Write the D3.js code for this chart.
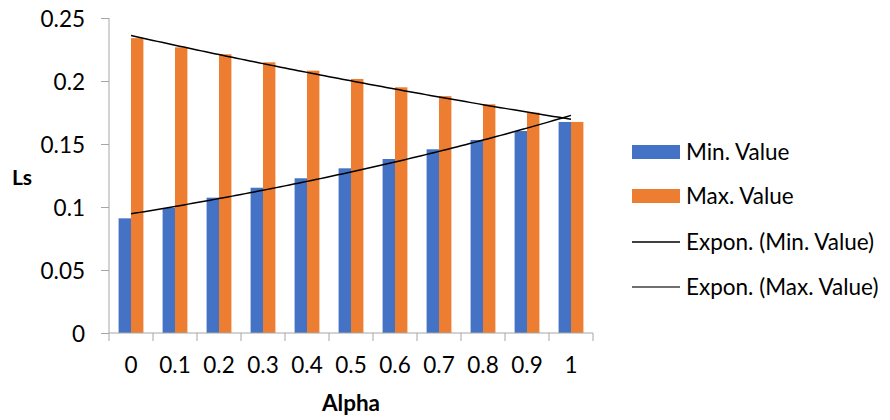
<!DOCTYPE html>
<html><head><meta charset="utf-8">
<script src="https://cdn.jsdelivr.net/npm/d3@7"></script>
<style>body{margin:0;background:#fff;} svg{display:block;font-family:Lato,"Open Sans",sans-serif;}</style>
</head><body>
<svg id="c" width="890" height="420"></svg>
<script>
const categories = ["0","0.1","0.2","0.3","0.4","0.5","0.6","0.7","0.8","0.9","1"];
const minValues = [0.091,0.0992,0.1074,0.1153,0.1228,0.1307,0.1381,0.1458,0.1532,0.1603,0.1675];
const maxValues = [0.234,0.2267,0.2212,0.2148,0.2082,0.2016,0.195,0.188,0.1815,0.1749,0.1675];
const yTicks = [0,0.05,0.1,0.15,0.2,0.25];
const seriesNames = ["Min. Value","Max. Value"];
const trendNames = ["Expon. (Min. Value)","Expon. (Max. Value)"];
const colors = ["#4472c4","#ed7d31"];

const svg = d3.select("#c");
const L=109, R=593, T=18, B=333;
const FS = 22.5;
const x = d3.scaleBand().domain(categories).range([L,R]).paddingInner(0).paddingOuter(0);
const y = d3.scaleLinear().domain([0,0.25]).range([B,T]);
const bw = 12.4;

// axes
const axisColor = "#a6a6a6";
const yAxis = svg.append("g").attr("transform",`translate(${L},0)`)
  .call(d3.axisLeft(y).tickValues(yTicks).tickSize(8).tickPadding(16).tickFormat(d=>d3.format("")(d)));
yAxis.select(".domain").attr("stroke",axisColor).attr("d",`M0,${T}V${B}`);
yAxis.selectAll(".tick line").attr("stroke",axisColor);
yAxis.selectAll(".tick text").attr("font-size",FS).attr("fill","#000").attr("font-family","Lato").attr("dy","0.36em");

// bars
const data = categories.map((c,i)=>({c,vals:[minValues[i],maxValues[i]]}));
const g = svg.append("g");
data.forEach(d=>{
  d.vals.forEach((v,j)=>{
    const cx = x(d.c)+x.bandwidth()/2;
    g.append("rect").attr("x",cx-bw+j*bw).attr("width",bw)
      .attr("y",y(v)).attr("height",B-y(v)).attr("fill",colors[j]);
  });
});

const xAxis = svg.append("g").attr("transform",`translate(0,${B})`);
xAxis.append("path").attr("d",`M${L},0H${R}`).attr("stroke",axisColor);
d3.range(categories.length+1).forEach(i=>{
  const px = L + i*x.bandwidth();
  xAxis.append("line").attr("x1",px).attr("x2",px).attr("y1",0).attr("y2",8).attr("stroke",axisColor);
});
categories.forEach(c=>{
  xAxis.append("text").attr("x",x(c)+x.bandwidth()/2).attr("y",40).attr("text-anchor","middle")
    .attr("font-size",FS).attr("fill","#000").text(c);
});

// exponential trendlines (Excel: x = 1..n)
function expFit(vals){
  const xs = vals.map((_,i)=>i+1), ls = vals.map(v=>Math.log(v));
  const mx=d3.mean(xs), my=d3.mean(ls);
  const b = d3.sum(xs.map((xx,i)=>(xx-mx)*(ls[i]-my)))/d3.sum(xs.map(xx=>(xx-mx)**2));
  const a = my-b*mx;
  return t=>Math.exp(a+b*t);
}
const xc = t => x(categories[0]) + x.bandwidth()/2 + (t-1)*x.bandwidth();
[minValues,maxValues].forEach(vals=>{
  const f = expFit(vals);
  const pts = d3.range(1,11.001,0.1).map(t=>[xc(t),y(f(t))]);
  svg.append("path").attr("d",d3.line()(pts)).attr("fill","none").attr("stroke","#000").attr("stroke-width",1.5);
});

// axis titles
svg.append("text").attr("x",22).attr("y",185).attr("text-anchor","middle").attr("font-weight","bold")
  .attr("font-size",21).text("Ls");
svg.append("text").attr("x",351).attr("y",411).attr("text-anchor","middle").attr("font-weight","bold")
  .attr("font-size",22.5).text("Alpha");

// legend
const leg = svg.append("g");
const ly = [152,196,242,287];
seriesNames.forEach((s,i)=>{
  leg.append("rect").attr("x",632).attr("y",ly[i]-7).attr("width",48).attr("height",14).attr("fill",colors[i]);
  leg.append("text").attr("x",686).attr("y",ly[i]+8).attr("font-size",FS).text(s);
});
trendNames.forEach((s,i)=>{
  leg.append("line").attr("x1",632).attr("x2",680).attr("y1",ly[i+2]).attr("y2",ly[i+2])
    .attr("stroke",i?"#404040":"#000").attr("stroke-width",1.5);
  leg.append("text").attr("x",686).attr("y",ly[i+2]+8).attr("font-size",FS).text(s);
});
</script>
</body></html>
